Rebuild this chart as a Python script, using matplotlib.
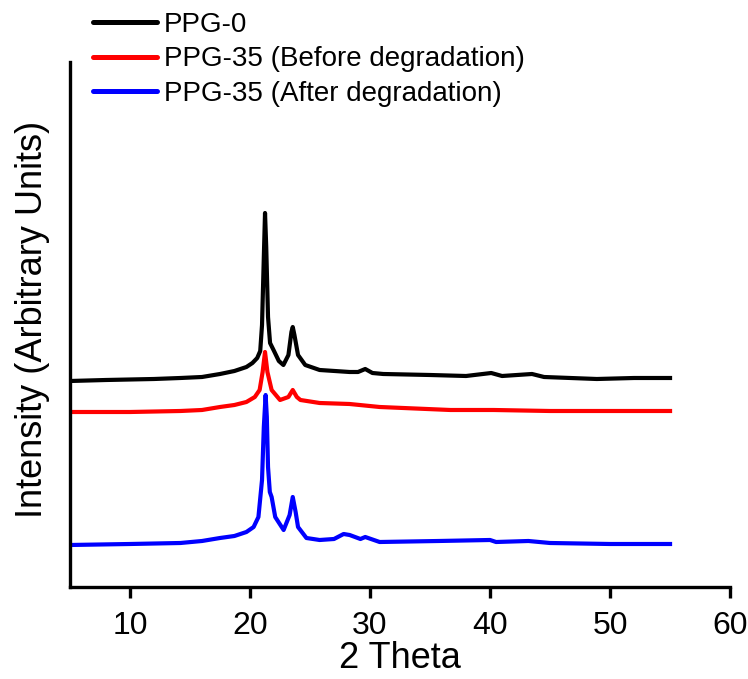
import numpy as np
import matplotlib.pyplot as plt

plt.rcParams['font.family'] = ['Liberation Sans', 'DejaVu Sans']

# ---- data (2 theta, intensity in arbitrary units) ----
x_ppg0 = [5, 8, 12, 14.2, 16, 17.5, 18.7, 19.7, 20.2, 20.6, 20.85, 21.0, 21.15, 21.25, 21.35,
          21.5, 21.67, 22.0, 22.4, 22.78, 23.2, 23.45, 23.56, 23.7, 24.0, 24.6, 25.8, 28.3,
          29.0, 29.6, 30.2, 31.1, 35, 38, 40.1, 41, 43.5, 44.5, 48.9, 52, 55]
y_ppg0 = [206, 207, 208, 209, 210, 213, 216, 220, 224, 229, 236, 262, 330, 374, 340,
          270, 244, 236, 226, 222, 232, 255, 260, 252, 232, 222, 217, 215,
          215, 218, 214, 213, 212, 211, 214, 211, 213, 210, 208, 209, 209]

x_before = [5, 10, 14.2, 16, 17.5, 18.7, 19.7, 20.4, 20.8, 21.05, 21.25, 21.45, 21.8, 22.5,
            23.2, 23.56, 23.9, 24.2, 25.8, 28.3, 30.8, 36.7, 40.3, 45, 50, 55]
y_before = [175, 175, 176, 177, 180, 182, 185, 190, 197, 215, 235, 215, 197, 187,
            190, 197, 190, 187, 184, 183, 180, 177, 177, 176, 176, 176]

x_after = [5, 10, 14.2, 16, 17.5, 18.7, 19.7, 20.3, 20.7, 21.0, 21.15, 21.3, 21.4, 21.5,
           21.65, 21.8, 22.1, 22.8, 23.3, 23.56, 23.8, 24.0, 24.7, 25.8, 27.0, 27.8, 28.3,
           29.2, 29.6, 30.8, 35.7, 40.0, 40.5, 43.2, 45, 50, 55]
y_after = [42, 43, 44, 46, 49, 51, 55, 60, 70, 107, 160, 192, 170, 120,
           95, 90, 70, 57, 72, 90, 75, 60, 49, 47, 48, 53, 52,
           48, 50, 45, 46, 47, 45, 46, 44, 43, 43]

labels = ['PPG-0', 'PPG-35 (Before degradation)', 'PPG-35 (After degradation)']
colors = ['#000000', '#ff0000', '#0000ff']

# ---- figure ----
fig = plt.figure(figsize=(7.48, 6.79), dpi=100)
ax = fig.add_axes([0.0936, 0.1355, 0.8824, 0.7732])

for xs, ys, lab, c in zip([x_ppg0, x_before, x_after], [y_ppg0, y_before, y_after], labels, colors):
    ax.plot(xs, ys, color=c, lw=3, label=lab, solid_joinstyle='round')

ax.set_xlim(5, 60)
ax.set_ylim(0, 525)
ax.set_xticks([10, 20, 30, 40, 50, 60])
ax.set_yticks([])
ax.tick_params(axis='x', direction='out', length=8, width=2.4, labelsize=23, pad=9)
for s in ['top', 'right']:
    ax.spines[s].set_visible(False)
for s in ['left', 'bottom']:
    ax.spines[s].set_linewidth(2.4)

ax.set_xlabel('2 Theta', fontsize=26, labelpad=0)
ax.set_ylabel('Intensity (Arbitrary Units)', fontsize=26)
ax.yaxis.set_label_coords(-0.031, 0.509)

leg = ax.legend(loc='upper left', bbox_to_anchor=(93 / 748, 1 - 12 / 679),
                bbox_transform=fig.transFigure, frameon=False, fontsize=20,
                handlelength=2.3, handletextpad=0.25, labelspacing=0.3, borderpad=0,
                borderaxespad=0)
for ln in leg.get_lines():
    ln.set_linewidth(3.6)
    ln.set_solid_capstyle('round')

fig.savefig('out.png', dpi=100)
